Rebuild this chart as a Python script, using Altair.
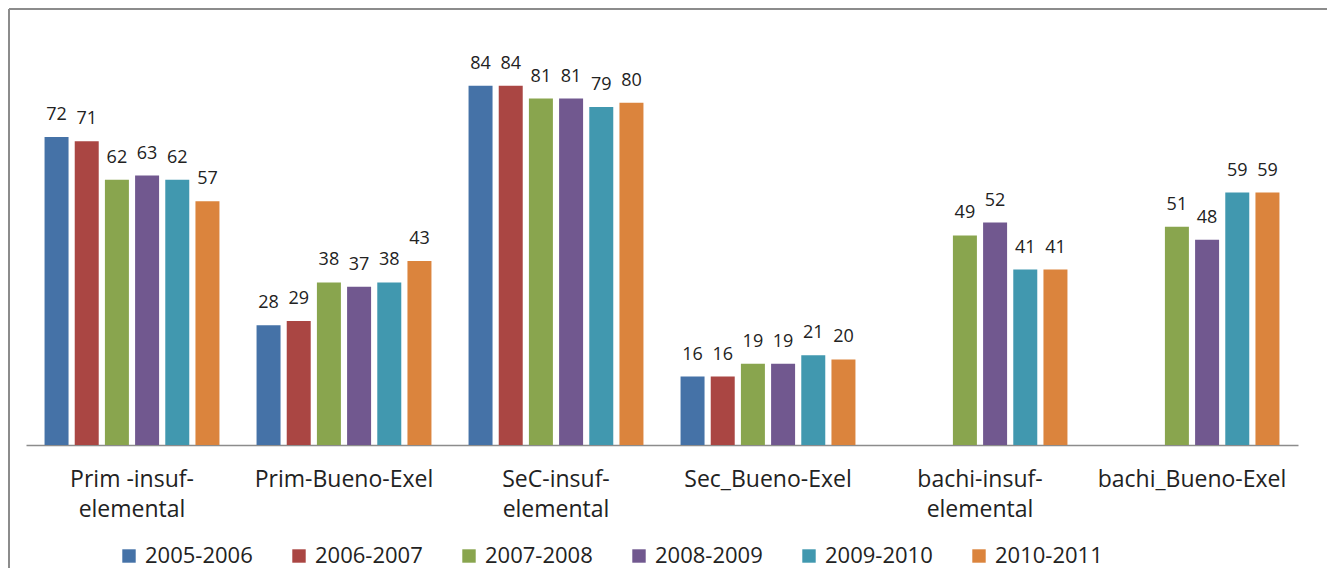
import altair as alt
import pandas as pd

categories = ["Prim -insuf-\nelemental", "Prim-Bueno-Exel", "SeC-insuf-\nelemental",
              "Sec_Bueno-Exel", "bachi-insuf-\nelemental", "bachi_Bueno-Exel"]
series = ["2005-2006", "2006-2007", "2007-2008", "2008-2009", "2009-2010", "2010-2011"]
colors = ["#4572A7", "#AA4643", "#89A54E", "#71588F", "#4198AF", "#DB843D"]

v_2005_2006 = [72, 28, 84, 16, None, None]
v_2006_2007 = [71, 29, 84, 16, None, None]
v_2007_2008 = [62, 38, 81, 19, 49, 51]
v_2008_2009 = [63, 37, 81, 19, 52, 48]
v_2009_2010 = [62, 38, 79, 21, 41, 59]
v_2010_2011 = [57, 43, 80, 20, 41, 59]

cols = [v_2005_2006, v_2006_2007, v_2007_2008, v_2008_2009, v_2009_2010, v_2010_2011]
rows = []
for s, vals in zip(series, cols):
    for c, v in zip(categories, vals):
        if v is not None:
            rows.append({"cat": c, "serie": s, "value": v})
df = pd.DataFrame(rows)

FONT = "Open Sans"
W, H = 1272, 385

x = alt.X("cat:N", sort=categories,
          scale=alt.Scale(paddingInner=0.175, paddingOuter=0.0875),
          axis=alt.Axis(title=None, labelAngle=0, ticks=False, domainColor="#8c8c8c",
                        domainWidth=1.5, labelFont=FONT, labelFontSize=23,
                        labelColor="#222222", labelPadding=23, labelLineHeight=30,
                        labelExpr="split(datum.label, '\\n')", labelLimit=300))
xo = alt.XOffset("serie:N", sort=series,
                 scale=alt.Scale(domain=series, paddingInner=0.205, paddingOuter=0))
y = alt.Y("value:Q", scale=alt.Scale(domain=[0, 90]), axis=None)
color = alt.Color("serie:N", sort=series,
                  scale=alt.Scale(domain=series, range=colors),
                  legend=alt.Legend(title=None, orient="none", legendX=92, legendY=485,
                                    direction="horizontal", symbolType="square",
                                    symbolSize=180, symbolStrokeWidth=0,
                                    labelFont=FONT, labelFontSize=22, labelColor="#222222",
                                    labelOffset=5, columnPadding=35, labelLimit=300))

bars = alt.Chart(df).mark_bar().encode(x=x, xOffset=xo, y=y, color=color)
labels = alt.Chart(df).mark_text(baseline="alphabetic", dy=-17, font=FONT, fontSize=18,
                                 color="#222222").encode(
    x=x, xOffset=xo, y=y, text=alt.Text("value:Q"))

frame_data = alt.Data(values=[{"a": 1}])
left_line = alt.Chart(frame_data).mark_rule(color="#8c8c8c", strokeWidth=2).encode(
    x=alt.value(-17), y=alt.value(-51), y2=alt.value(600))
top_line = alt.Chart(frame_data).mark_rule(color="#8c8c8c", strokeWidth=2).encode(
    x=alt.value(-17), x2=alt.value(1400), y=alt.value(-51))

chart = alt.layer(bars, labels, left_line, top_line).properties(
    width=W, height=H,
    background="white",
    autosize=alt.AutoSizeParams(type="none"),
    padding={"left": 18, "top": 52, "right": 29, "bottom": 123},
).configure_view(stroke=None)

chart.save("out.html", embed_options={"renderer": "svg", "actions": False})
